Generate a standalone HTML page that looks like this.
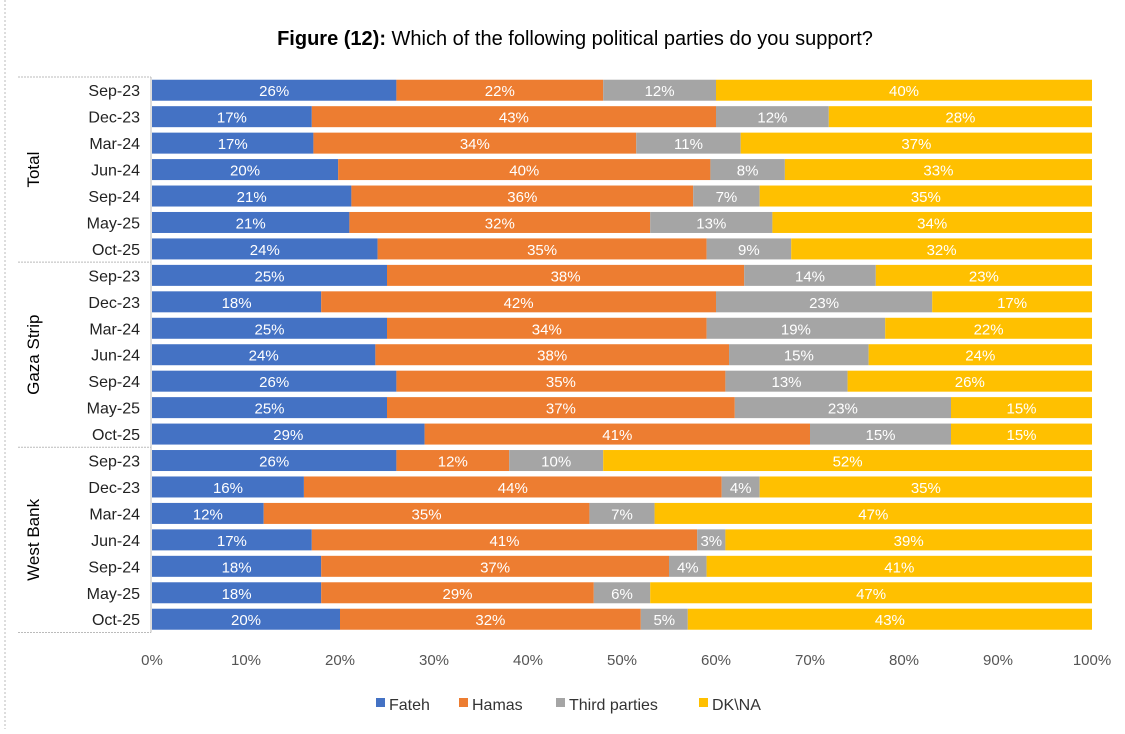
<!DOCTYPE html>
<html><head><meta charset="utf-8"><style>
body{margin:0;background:#fff;font-family:"Liberation Sans",sans-serif;}
svg text{font-family:"Liberation Sans",sans-serif;}
</style></head><body>
<svg id="c" width="1125" height="729">
<line x1="5" y1="0" x2="5" y2="729" stroke="#bbb" stroke-dasharray="2,2"/>
<text x="575" y="45" text-anchor="middle" font-size="20" fill="#000"><tspan font-weight="bold">Figure (12):</tspan> Which of the following political parties do you support?</text>
<g id="plot"></g>
<g id="legend"></g>
</svg>
<script>
const groups = ["Total","Gaza Strip","West Bank"];
const periods = ["Sep-23","Dec-23","Mar-24","Jun-24","Sep-24","May-25","Oct-25"];
const seriesNames = ["Fateh","Hamas","Third parties","DK\\NA"];
const fateh = [26,17,17,20,21,21,24, 25,18,25,24,26,25,29, 26,16,12,17,18,18,20];
const hamas = [22,43,34,40,36,32,35, 38,42,34,38,35,37,41, 12,44,35,41,37,29,32];
const third = [12,12,11,8,7,13,9, 14,23,19,15,13,23,15, 10,4,7,3,4,6,5];
const dkna  = [40,28,37,33,35,34,32, 23,17,22,24,26,15,15, 52,35,47,39,41,47,43];
const ticks = [0,10,20,30,40,50,60,70,80,90,100];

const colors = ["#4472C4","#ED7D31","#A5A5A5","#FFC000"];
const series = [fateh,hamas,third,dkna];
const x0 = 152, x1 = 1092, yTop = 77, pitch = 26.45, barH = 21;
const xs = v => x0 + (x1 - x0) * v / 100;
const yc = i => yTop + pitch * (i + 0.5);
const NS = "http://www.w3.org/2000/svg";
const plot = document.getElementById("plot");
function mk(tag, attrs, parent){const e=document.createElementNS(NS,tag);for(const k in attrs)e.setAttribute(k,attrs[k]);(parent||plot).appendChild(e);return e;}

const n = fateh.length;
for (let i = 0; i < n; i++) {
  let cum = 0;
  const total = series.reduce((a, s) => a + s[i], 0);
  for (let s = 0; s < 4; s++) {
    const v = series[s][i];
    const a = cum * 100 / total, b = (cum + v) * 100 / total;
    const r = mk("rect",{x:xs(a),y:yc(i)-barH/2,width:xs(b)-xs(a),height:barH,fill:colors[s]});
    
    
    const t = mk("text",{x:(xs(a)+xs(b))/2,y:yc(i)+6,"text-anchor":"middle","font-size":"15",fill:"#fff"});
    t.textContent = v + "%";
    
    
    cum += v;
  }
  const l = mk("text",{x:140,y:yc(i)+6,"text-anchor":"end","font-size":"16",fill:"#222"});
  l.textContent = periods[i % 7];
  
  
}
for (let g = 0; g <= 3; g++) {
  const y = yTop + pitch * 7 * g;
  const ln = mk("line",{x1:18,x2:151,y1:y,y2:y,stroke:"#bbb","stroke-dasharray":"2,1"});
  
  
}
groups.forEach((g, k) => {
  const cy = yTop + pitch * 7 * (k + 0.5);
  const t = mk("text",{x:0,y:0,transform:`translate(39,${cy}) rotate(-90)`,"text-anchor":"middle","font-size":"17",fill:"#000"});
  t.textContent = g;
  
  
});
const al = mk("line",{x1:151,x2:151,y1:yTop,y2:yTop+pitch*n,stroke:"#bbb"});


ticks.forEach(v => {
  const t = mk("text",{x:xs(v),y:665,"text-anchor":"middle","font-size":"15",fill:"#555"});
  t.textContent = v + "%";
  
  
});
const leg = document.getElementById("legend");
const lx = [376, 459, 556, 699];
seriesNames.forEach((s, k) => {
  const r = mk("rect",{x:lx[k],y:698,width:9,height:9,fill:colors[k]},leg);
  
  
  const t = mk("text",{x:lx[k]+13,y:710,"font-size":"16",fill:"#333"},leg);
  t.textContent = s;
  
  
});
</script>
</body></html>
